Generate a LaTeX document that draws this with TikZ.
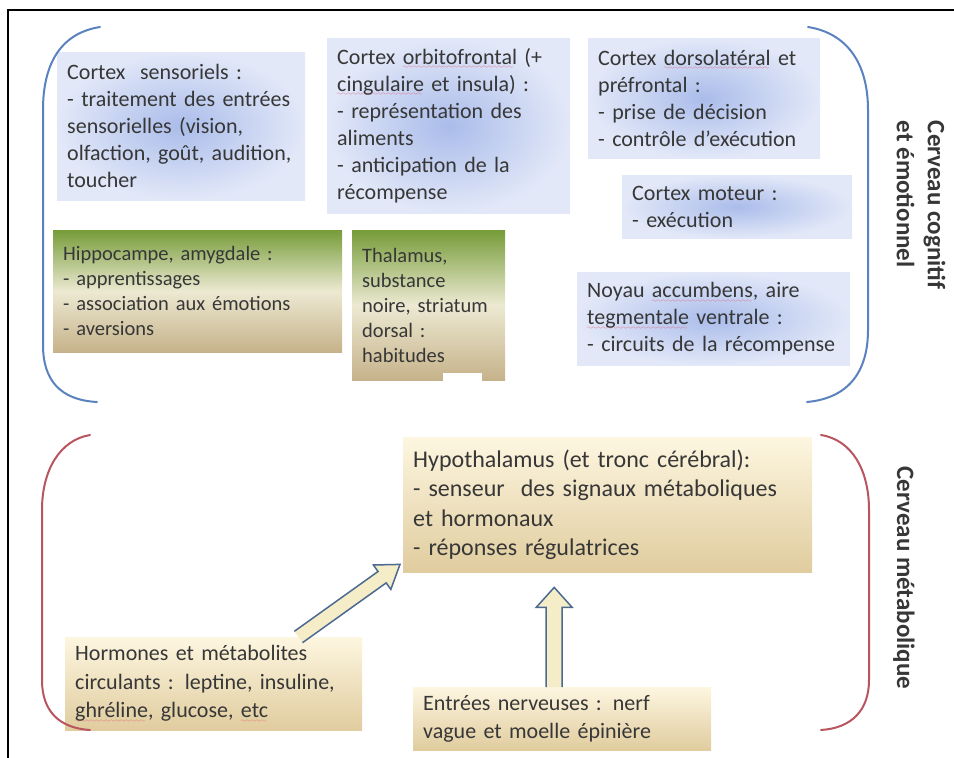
\documentclass[tikz,border=0pt]{standalone}
\usepackage{fontspec}
\setmainfont{Carlito}
\usepackage{color}
\definecolor{inkgray}{RGB}{55,55,55}
\definecolor{cortexblue}{RGB}{170,188,234}
\definecolor{cortexpale}{RGB}{226,232,248}
\definecolor{limbgreen}{RGB}{118,156,56}
\definecolor{limbpale}{RGB}{236,233,210}
\definecolor{limbtan}{RGB}{198,178,138}
\definecolor{metacream}{RGB}{253,246,224}
\definecolor{metatan}{RGB}{224,204,158}
\definecolor{arrowblue}{RGB}{75,105,145}
\definecolor{arrowcream}{RGB}{245,236,200}
\definecolor{cogblue}{RGB}{90,130,190}
\definecolor{metared}{RGB}{185,85,95}
\definecolor{spellred}{RGB}{228,80,105}
\usepackage{tikz}
\usetikzlibrary{calc,positioning}
\tikzstyle{cortexbox}=[anchor=north west,inner xsep=10pt,inner ysep=0pt,align=left,inner color=cortexblue,outer color=cortexpale]
% red wavy line under a word
\font\spellwave=lasy6
\newsavebox{\spellbox}
\newcommand{\spell}[1]{\leavevmode\sbox{\spellbox}{#1}\hbox{\rlap{\lower4.5pt\hbox to\wd\spellbox{\color{spellred}\leaders\hbox{\spellwave\char58}\hfill}}\usebox{\spellbox}}}
% fat arrow: tail, tip, shaft half width, head half width, head length
\newcommand{\fatarrow}[5]{%
  \coordinate (fah) at ($(#2)!#5!(#1)$);
  \filldraw[fatarrow] ($(#1)!#3!90:(#2)$) -- ($(fah)!#3!90:(#2)$) -- ($(fah)!#4!90:(#2)$) -- (#2)
    -- ($(fah)!#4!-90:(#2)$) -- ($(fah)!#3!-90:(#2)$) -- ($(#1)!#3!-90:(#2)$);}

\begin{document}
\begin{tikzpicture}[
  x=1pt,
  y=-1pt,
  every node/.style={text=inkgray,font=\fontsize{22}{27}\selectfont},
  limbicbox/.style={
    anchor=north west,
    inner xsep=10pt,
    inner ysep=0pt,
    align=left,
    font=\fontsize{20.5}{25}\selectfont,
    top color=limbgreen,
    bottom color=limbtan,
    middle color=limbpale
    },
  metabox/.style={
    anchor=north west,
    inner xsep=10pt,
    inner ysep=0pt,
    align=left,
    font=\fontsize{22}{28.5}\selectfont,
    top color=metacream,
    bottom color=metatan
    },
  bracket/.style={line width=2pt,line cap=round},
  fatarrow/.style={draw=arrowblue,fill=arrowcream,line width=1.5pt,line join=miter},
  sidelabel/.style={font=\fontsize{25}{31}\selectfont\bfseries,rotate=-90,align=left}
]
\useasboundingbox (0,0) rectangle (954,758);
\draw[line width=2pt] (8,758) -- (8,10) -- (954,10);

% cerveau cognitif et emotionnel
\node[cortexbox,minimum width=248,minimum height=148,text width=228] (sens) at (57,52)
  {Cortex\ \ sensoriels :\\- traitement des entrées\\sensorielles (vision,\\olfaction, goût, audition,\\toucher};
\node[cortexbox,minimum width=243,minimum height=175,text width=223] (orbito) at (327,38)
  {Cortex \spell{orbitofrontal} (+\\\spell{cingulaire} et insula) :\\- représentation des\\aliments\\- anticipation de la\\récompense};
\node[cortexbox,minimum width=232,minimum height=120,text width=212] (dorso) at (588,38)
  {Cortex \spell{dorsolatéral} et\\préfrontal :\\- prise de décision\\- contrôle d’exécution};
\node[cortexbox,minimum width=230,minimum height=63,text width=210] (moteur) at (622,175)
  {Cortex moteur :\\- exécution};
\node[cortexbox,minimum width=273,minimum height=93,text width=253] (noyau) at (577,272)
  {Noyau \spell{accumbens}, aire\\\spell{tegmentale} ventrale :\\- circuits de la récompense};
\node[limbicbox,minimum width=289,minimum height=122,text width=269] (hippo) at (53,230)
  {Hippocampe, amygdale :\\- apprentissages\\- association aux émotions\\- aversions};
\node[limbicbox,minimum width=153,minimum height=150,text width=133] (thal) at (352,230)
  {Thalamus,\\substance\\noire, striatum\\dorsal :\\habitudes};
\fill[white] (443,373) rectangle (482,382);

\draw[bracket,cogblue] (100,27) .. controls (62,33) and (43,62) .. (43,110) -- (43,345)
  .. controls (43,380) and (60,400) .. (97,402);
\draw[bracket,cogblue] (808,27) .. controls (846,33) and (868,62) .. (868,110) -- (868,330)
  .. controls (868,370) and (850,398) .. (807,402);
\node[sidelabel] (cognitif) at (921,205) {Cerveau cognitif\\et émotionnel};

% cerveau metabolique
\node[metabox,minimum width=409,minimum height=135,text width=389,font=\fontsize{24}{29.5}\selectfont] (hypo) at (403,437)
  {Hypothalamus (et tronc cérébral):\\- senseur\ \ des signaux métaboliques\\et hormonaux\\- réponses régulatrices};
\node[metabox,minimum width=297,minimum height=93,text width=277] (hormones) at (65,637)
  {Hormones et métabolites\\circulants : leptine, insuline,\\\spell{ghréline}, glucose, \spell{etc}};
\node[metabox,minimum width=298,minimum height=63,text width=278] (entrees) at (413,687)
  {Entrées nerveuses : nerf\\vague et moelle épinière};

\coordinate (a1s) at ([xshift=-64pt]hormones.north east);
\coordinate (a1e) at ([xshift=-3pt,yshift=8pt]hypo.south west);
\fatarrow{a1s}{a1e}{7pt}{15pt}{22pt}
\coordinate (a2s) at ([xshift=-8pt]entrees.north);
\coordinate (a2e) at ($(a2s |- hypo.south)+(0,15)$);
\fatarrow{a2s}{a2e}{8pt}{18pt}{20pt}

\draw[bracket,metared] (90,435) .. controls (60,440) and (42,470) .. (42,510) -- (42,680)
  .. controls (42,710) and (58,728) .. (90,730);
\draw[bracket,metared] (821,435) .. controls (852,440) and (869,470) .. (869,510) -- (869,680)
  .. controls (869,710) and (852,728) .. (821,730);
\node[sidelabel] (metabolique) at (904,578) {Cerveau métabolique};
\end{tikzpicture}
\end{document}
